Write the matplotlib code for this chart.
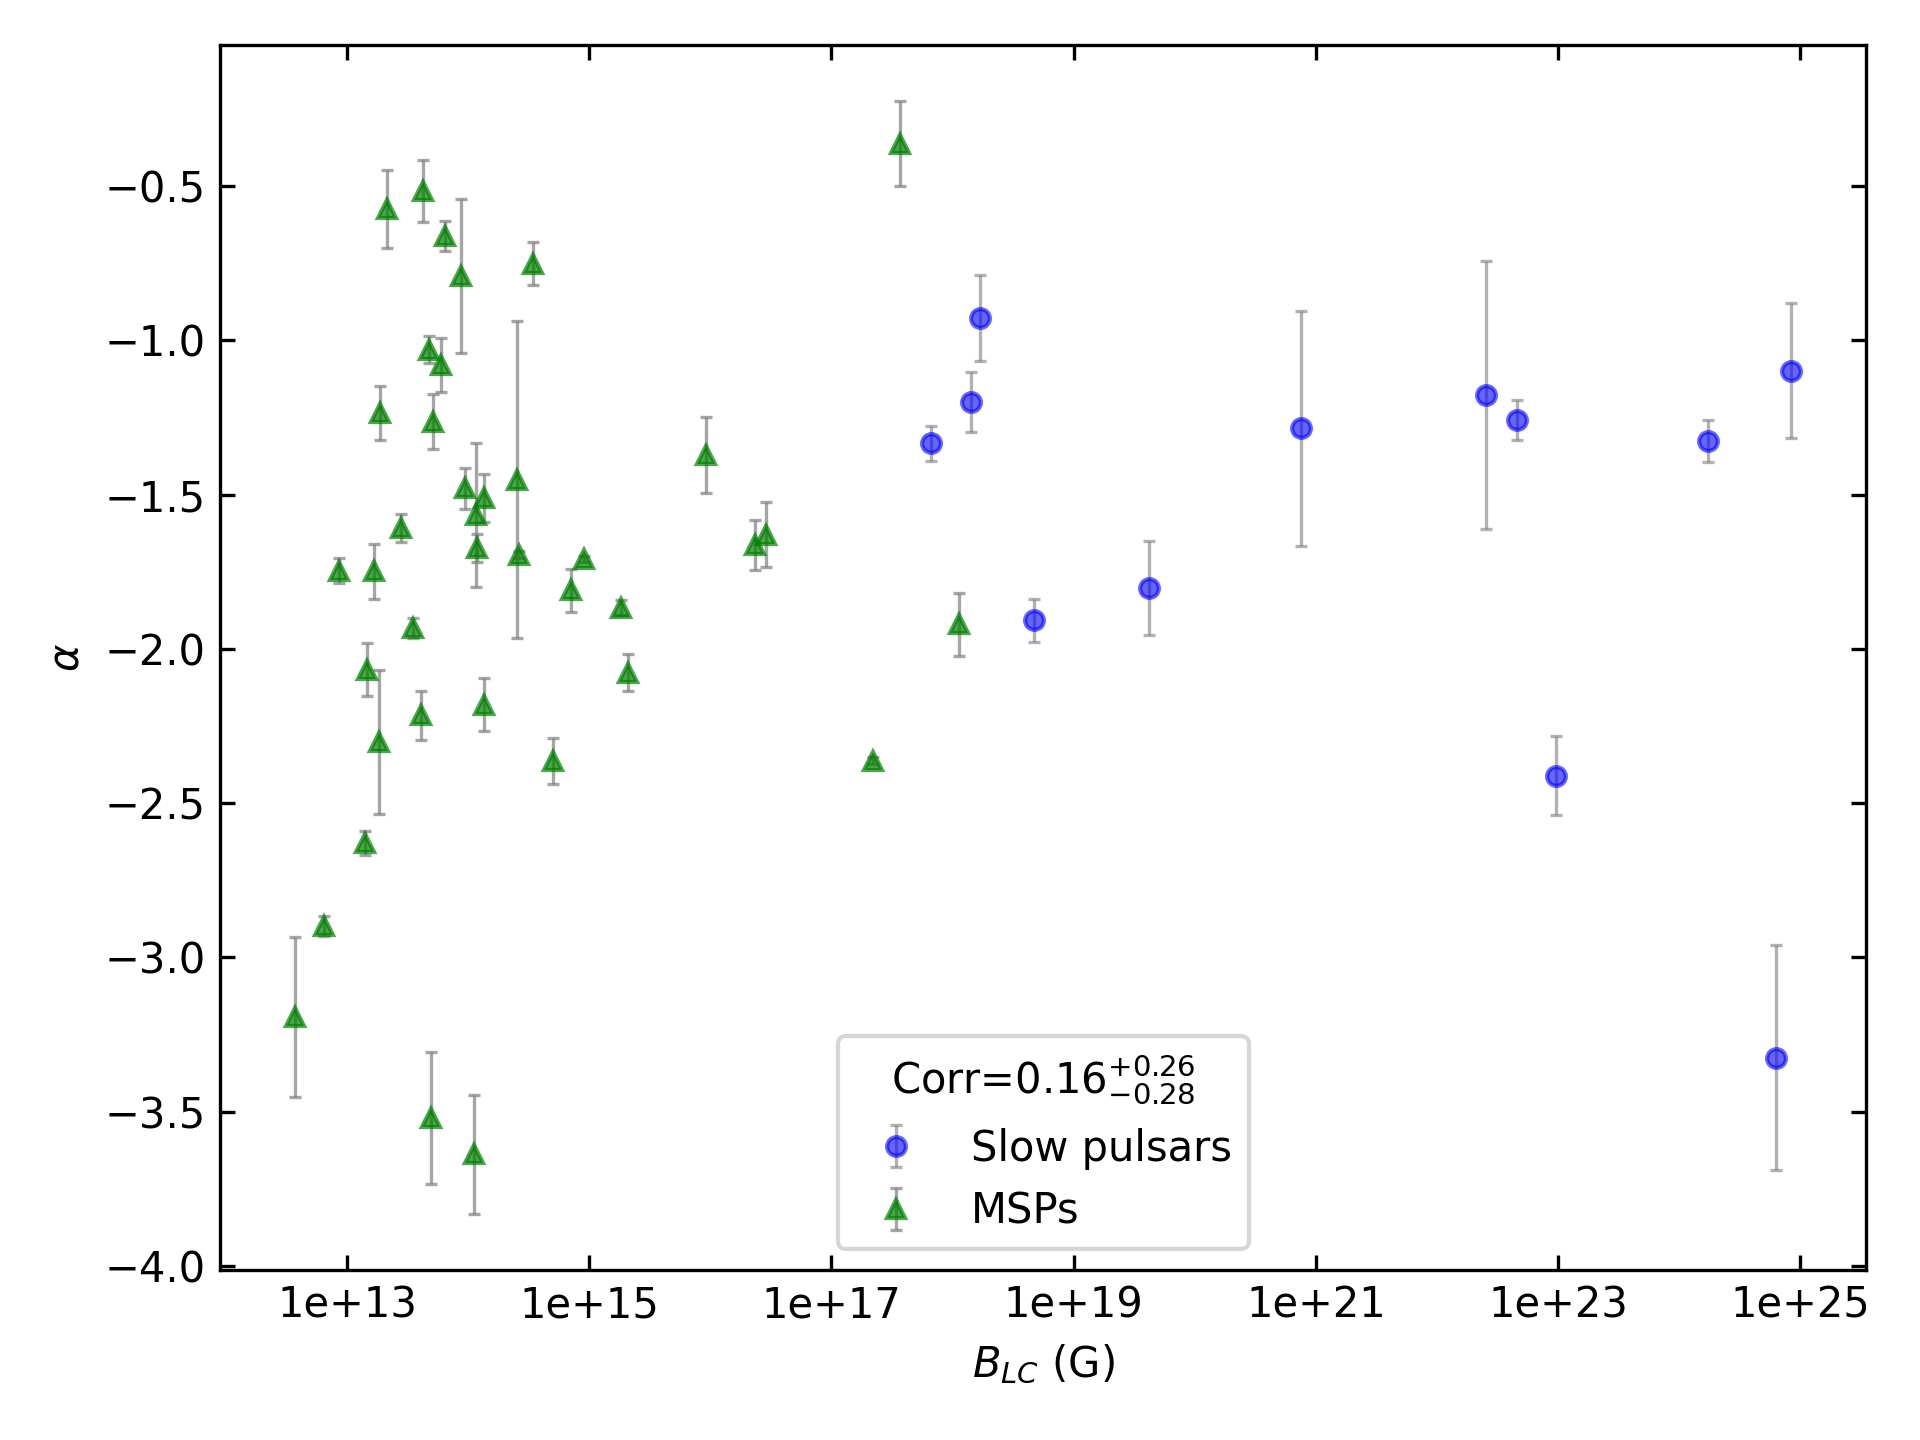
import matplotlib
matplotlib.use("Agg")
import matplotlib.pyplot as plt
import matplotlib.ticker as mticker

# Slow pulsars
slow_B = [6.58e17, 1.41e18, 1.67e18, 4.74e18, 4.22e19, 7.59e20,
          2.55e22, 4.61e22, 9.53e22, 1.73e24, 8.43e24, 6.28e24]
slow_alpha = [-1.333, -1.200, -0.928, -1.907, -1.802, -1.285,
              -1.178, -1.259, -2.412, -1.327, -1.098, -3.326]
slow_err = [0.057, 0.097, 0.139, 0.070, 0.153, 0.381,
            0.435, 0.065, 0.128, 0.068, 0.219, 0.365]

# MSPs
msp_B = [2.15e13, 4.21e13, 6.38e13, 8.77e13, 3.44e14, 4.78e13, 6.00e13,
         1.87e13, 5.08e13, 2.51e14, 2.62e14, 9.33e13, 1.35e14, 1.17e14,
         1.19e14, 2.77e13, 8.53e12, 1.66e13, 3.48e13, 9.02e14, 7.00e14,
         1.81e15, 1.45e13, 1.82e13, 4.05e13, 1.35e14, 4.98e14, 1.40e13,
         6.41e12, 3.70e12, 4.90e13, 1.11e14, 9.27e15, 2.35e16, 2.86e16,
         2.08e15, 2.20e17, 1.13e18, 3.70e17]
msp_alpha = [-0.575, -0.515, -0.661, -0.791, -0.752, -1.030, -1.080,
             -1.236, -1.263, -1.452, -1.695, -1.479, -1.511, -1.567,
             -1.673, -1.608, -1.746, -1.749, -1.932, -1.709, -1.810,
             -1.866, -2.067, -2.302, -2.216, -2.181, -2.362, -2.629,
             -2.899, -3.193, -3.520, -3.639, -1.371, -1.662, -1.630,
             -2.078, -2.362, -1.921, -0.362]
msp_err = [0.127, 0.100, 0.048, 0.250, 0.070, 0.044, 0.088,
           0.088, 0.089, 0.514, 0.012, 0.066, 0.078, 0.233,
           0.044, 0.045, 0.039, 0.089, 0.032, 0.010, 0.070,
           0.025, 0.086, 0.234, 0.079, 0.086, 0.0745, 0.039,
           0.032, 0.259, 0.214, 0.194, 0.124, 0.081, 0.105,
           0.060, 0.010, 0.102, 0.138]

xticks = [1e13, 1e15, 1e17, 1e19, 1e21, 1e23, 1e25]
legend_title = r"Corr=$0.16^{+0.26}_{-0.28}$"

fig, ax = plt.subplots(figsize=(6.4, 4.8), dpi=300)
fig.subplots_adjust(left=0.1146, right=0.9719, top=0.9685, bottom=0.1181)

ax.errorbar(slow_B, slow_alpha, yerr=slow_err, fmt='o', color='blue', alpha=0.6,
            ecolor='gray', elinewidth=0.8, capsize=1.5, capthick=0.8, ms=4.5,
            mec='blue', label='Slow pulsars')
ax.errorbar(msp_B, msp_alpha, yerr=msp_err, fmt='^', color='green', alpha=0.7,
            ecolor='gray', elinewidth=0.8, capsize=1.5, capthick=0.8, ms=4.5,
            mec='green', label='MSPs')

ax.set_xscale('log')
ax.xaxis.set_major_locator(mticker.FixedLocator(xticks))
ax.xaxis.set_major_formatter(mticker.FuncFormatter(lambda v, p: f"{v:.0e}"))
ax.xaxis.set_minor_locator(mticker.NullLocator())
ax.tick_params(which='both', direction='in', top=True, right=True)

ax.set_xlabel(r"$B_{LC}$ (G)")
ax.set_ylabel(r"$\alpha$")
ax.legend(title=legend_title, loc='lower center', title_fontsize=10)

fig.savefig("out.png", dpi=300)
